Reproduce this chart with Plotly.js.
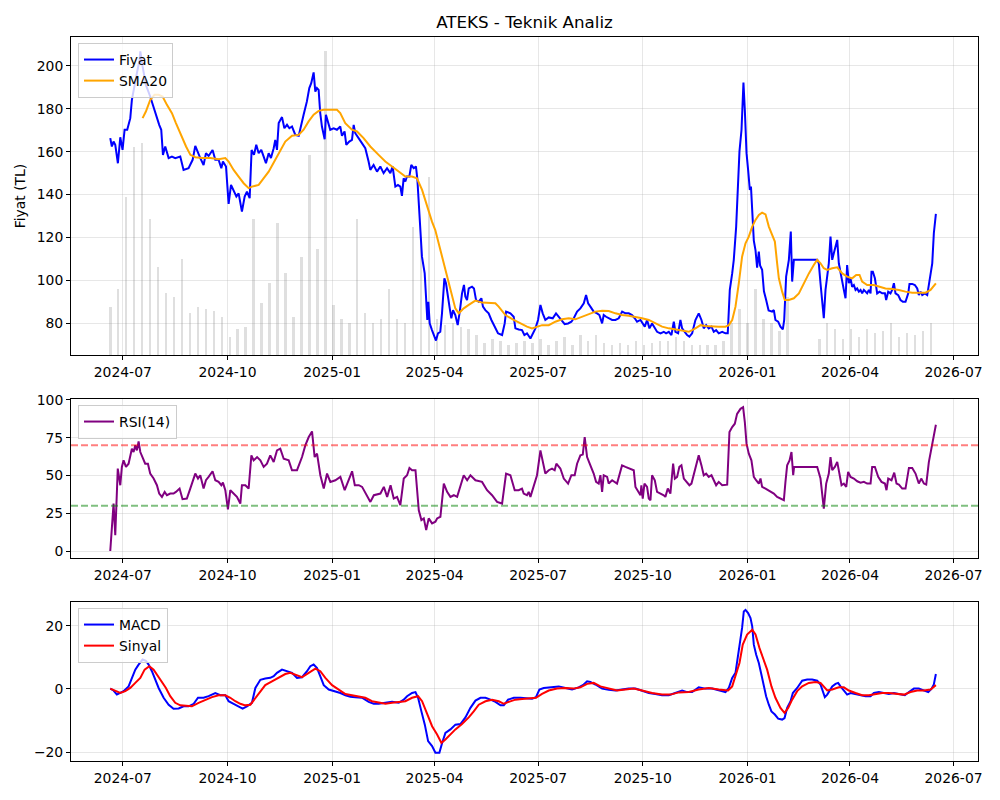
<!DOCTYPE html>
<html>
<head>
<meta charset="utf-8">
<script src="https://cdn.plot.ly/plotly-3.0.1.min.js"></script>
<style>html,body{margin:0;padding:0;background:#fff;}#chart{width:1000px;height:800px;}</style>
</head>
<body>
<div id="chart"></div>
<script>
// Day offsets are counted from the first trading day, 2024-06-20.
const START_DATE = '2024-06-20';

// Fiyat (close price, TL): [day, value]
const fiyat = [[0,166.3],[1.4,162.4],[2.9,164.7],[4.4,163.2],[6.7,154.6],[8.8,166.7],[10.8,160.8],[12.6,170.2],[14.9,170.2],[17.6,175.6],[19,184.1],[20.5,188.8],[23.4,196.6],[25.8,202.8],[26.4,206.7],[28.4,199.7],[31.3,191.1],[35.1,185.7],[38.1,180.3],[41,175.6],[43,172.5],[44.8,170.2],[46.3,158.5],[48.3,162.4],[51.3,157],[54.2,157.7],[57.1,157],[61.5,157.7],[64.4,151.5],[68.8,152.3],[72.4,156.2],[74.7,162.7],[77.1,159.3],[79.1,157],[82,153.8],[84.1,159.3],[86.4,158],[89.9,160.8],[92.3,156.2],[95.2,156.2],[97.6,152.3],[99,155.4],[101.7,153.1],[104,135.7],[106.1,144.5],[108.4,142.2],[110.8,139.1],[112.8,140.6],[114.3,136],[115.7,132.1],[118.1,139.1],[120.1,141.4],[122.5,138.3],[124.2,160.8],[126.3,158.5],[128.3,163.2],[130.4,159.3],[132.7,160.8],[134.8,157.7],[136.8,154.6],[139.2,159.3],[141.2,157],[143.6,161.6],[145,165.5],[146.5,160.8],[148,173.3],[150.9,176.1],[153,170.9],[155.3,172.5],[157.4,170.9],[159.7,171.7],[162.6,167.8],[165.6,167.4],[167,170.2],[169.9,177.2],[172.8,183.4],[174.9,189.6],[176.6,191.9],[178.7,196.9],[180.2,188],[181.6,189.6],[183.1,188.8],[184.5,178],[186,171.7],[188.4,165.8],[189.5,177.2],[191.3,174.1],[193.3,170.2],[196.3,170.9],[199.2,170.2],[202.1,171.7],[203.6,167.4],[205.9,169.4],[207.4,163.2],[210,164.7],[212.4,165.5],[213.9,172.5],[215.3,168.6],[218.2,166.3],[221.2,163.9],[224.1,161.6],[227,155.4],[228.5,151.5],[231.4,153.8],[234.4,150.7],[237.3,153.1],[240.2,150],[243.2,152.3],[246.1,150],[248.1,153.1],[250.5,143.7],[252.8,144.5],[254.9,143.7],[256.3,139.4],[257.8,147.6],[259.3,146.1],[260.7,148.4],[262.8,148.4],[264.5,153.8],[266.6,152.3],[268.6,153.1],[269.8,147.6],[271,137.5],[272.5,128.2],[273.9,111.1],[276.3,103.3],[277.7,92.5],[278.6,81.6],[279.5,90.1],[280.7,80],[282.7,76.9],[285.1,73.8],[286.2,72],[288,75.4],[290,76.1],[291.5,84.7],[293.6,101],[295,98.7],[296.5,92.5],[298.3,87],[299.7,82.4],[301.2,86.2],[303.2,83.9],[305.3,79.2],[307.3,86.2],[309.1,94],[310.8,97.9],[312,92.5],[313.5,90.9],[315,96.3],[317.9,97.1],[319.6,96.3],[321.4,90.9],[323.7,90.1],[326.1,91.7],[327.5,87.8],[329.6,86.2],[332.5,84.7],[334.9,81.6],[337.8,78.5],[340.7,75.4],[344.3,74.6],[346.6,80],[347.8,85.5],[351.6,84.7],[354.5,83.1],[356,77.7],[358.9,77.2],[361.8,76.9],[363.9,74.6],[366.2,75.4],[369.2,73],[371.2,75.4],[373.6,77.7],[375.9,81.6],[378,88.6],[380,84.7],[382.3,81.6],[385.3,82.8],[388.8,82.4],[391.7,84.7],[394.1,83.1],[396.4,81.6],[399.3,79.7],[402.3,80],[405.2,80.8],[407.3,82.4],[410.2,85.5],[413.1,87],[416.1,89.4],[418.1,93.2],[419.9,89.4],[421.9,87.8],[424.8,85.5],[427.8,84.7],[429.8,83.9],[432.2,80],[433.6,83.9],[435.7,83.1],[438,82.4],[441,81.6],[443.9,81.6],[446.8,82.4],[449.8,85.5],[452.7,84.7],[455.6,84.7],[458.5,83.9],[460.9,82.4],[462.9,80.8],[465.9,81.6],[467.9,80],[469.7,78.5],[471.7,81.6],[473.8,77.7],[476.1,80],[478.5,77.7],[480.5,76.1],[483.5,75.4],[486.4,76.1],[488.4,75.4],[490.8,76.1],[493.1,74.6],[495.2,80.8],[496.6,76.1],[499,75.4],[501,81.6],[502.5,77.7],[504.8,76.1],[506.9,74.6],[508.9,73.8],[511.3,75.4],[514.2,81.6],[517.1,84.7],[519.5,81.6],[521.5,77.7],[523.6,79.2],[525.9,77.7],[528.3,78.5],[530.3,76.1],[532.4,76.9],[534.7,75.4],[537.7,76.1],[540.6,75.4],[542.6,75.4],[544.4,95.6],[546.5,103.3],[547.9,109.6],[550,125.1],[551.7,142.2],[552.9,160.1],[554.7,170.2],[556.4,192.2],[557.6,179.5],[559.1,159.3],[560.5,151.5],[562,142.2],[563,143.7],[564.4,129.8],[565.5,118.5],[567,114],[568.4,106],[569.9,113.4],[571,107],[572.8,105],[574.4,95],[576.3,91],[578.5,86],[581.6,85.5],[583.1,86.2],[584.5,81.6],[586.9,80.8],[588.9,78.5],[591,77.2],[592.2,81.6],[593.9,101.8],[596.3,109.6],[598,122.8],[599.2,99.5],[600.7,109.6],[621.2,109.6],[622.6,108],[624.1,98.7],[625.6,90.9],[627,82.4],[628.5,95.6],[630,101.8],[631.4,108],[632.9,120.4],[634.4,109.6],[635.8,112.7],[637.3,116.6],[638.8,118.9],[640.2,108],[641.7,103.3],[643.2,99.5],[644.6,95.6],[646.1,91.7],[647.5,107.2],[649,98.7],[650.5,101],[651.9,97.1],[653.4,97.9],[654.9,95.6],[656.3,96.3],[657.8,94.8],[659.3,95.6],[660.7,94],[662.2,95.6],[663.7,94.8],[665.1,94],[666.6,95.6],[668.1,94],[668.9,104.1],[670.1,104.1],[671.9,101],[673.9,94],[676,94.8],[678.3,94],[680.7,94],[681.8,90.9],[683.6,94.8],[685.6,94],[687.1,95.6],[688.6,98.7],[690,94],[692.4,93.2],[694.4,90.9],[696.5,90.1],[698.8,90.1],[701.2,94],[702.3,98.4],[704.7,98.4],[707,97.9],[709.1,96.3],[710.5,93.2],[712,94.8],[713.5,93.2],[715.8,94],[717.9,93.2],[719.3,97.9],[720.8,104.9],[722.3,108],[723.7,122],[725.5,131]];

// SMA20: [day, value]
const sma20 = [[28.4,175.6],[31.3,178.7],[35.1,184.1],[38.9,186.5],[42.5,186.5],[46,185.7],[49.8,181.8],[54.2,177.9],[57.7,173.3],[63,166.3],[66.6,162.4],[70.4,158.5],[74.7,157.4],[80.6,157],[87.9,157],[95.2,156.5],[101.1,157],[104,155.4],[108.4,151.5],[112.8,148.4],[117.2,145.3],[121.6,143],[124.5,143.7],[130.4,144.5],[134.8,147.6],[139.2,150.7],[145,156.2],[149.4,160.8],[153.8,164.7],[159.7,167.4],[165.6,167.8],[169.9,170.2],[174.3,174.1],[178.7,177.2],[183.1,179],[187.5,179.5],[193.3,179.5],[199.2,179.5],[202.1,178],[206.5,173.3],[212.4,170.2],[216.8,169.4],[222.6,166.3],[228.5,162.4],[235.8,158.5],[241.7,155.4],[247.6,153.1],[253.4,150.7],[259.3,148.4],[265.1,148.4],[269.5,147.6],[274,142.2],[278.3,134.4],[282.7,127.4],[285.6,123.5],[288.6,117.3],[291.5,111.1],[294.4,104.9],[297.4,98.7],[300.3,92.5],[303.2,87],[306.2,84.7],[310.6,87],[315,88.6],[320.8,90.6],[326.7,89.7],[334,89.4],[338.4,89.4],[341.3,87.8],[347.2,83.9],[354.5,81.6],[360.4,80],[366.2,78.5],[370.6,77.7],[379.4,79.2],[385.3,79.2],[391.1,80.8],[397,81.9],[402.9,82.4],[408.7,81.9],[414.6,83.1],[420.4,84.4],[426.3,85.5],[432.2,85.9],[438,85.8],[443.9,84.7],[449.8,83.9],[455.6,83.6],[461.5,83.1],[467.3,82.4],[473.2,81.6],[479.1,80],[484.9,78.5],[490.8,77.7],[496.6,77.2],[502.5,76.9],[508.4,76.1],[514.2,77.7],[518.6,79.2],[523,78.8],[528.9,78.5],[534.7,78.5],[540.6,78.5],[543.5,79.2],[546.5,81.6],[549.4,87.8],[552.3,98.7],[555.2,111.1],[558.2,117.3],[561.1,120.4],[564.1,125.1],[567,128.2],[569.9,130.5],[572.8,131.6],[575.8,130.8],[578.7,125.1],[581.6,121.2],[584,118.1],[586,108],[587.5,101],[590.4,94.8],[592.7,90.9],[596.3,90.9],[600.7,91.7],[605.1,94],[609.5,98.7],[613.9,103.3],[618.2,107.2],[621.2,109.6],[624.1,108],[627,105.7],[630,104.9],[634.4,105.7],[638.8,106.1],[643.2,103.3],[647.5,101.8],[651.9,101],[655.5,102.6],[658.4,102.6],[660.7,99.5],[665.1,97.9],[671,97.9],[675.4,97.1],[681.2,96.3],[687.1,96],[693,95.6],[698.8,94.8],[704.7,94.3],[710.5,94.3],[716.4,94.3],[720.8,95.6],[725.5,98.7]];

// Volume (millions), sampled weekly starting at day 0
const hacim = [2.4,3.3,7.9,10.4,10.6,6.8,4.4,3.1,2.9,4.8,2.1,2.4,2.3,2.2,1.9,0.9,1.3,1.4,6.8,2.6,3.6,6.6,4.1,1.9,4.9,10,5.3,15.2,2.5,1.8,1.6,6.8,2.1,1.6,1.8,3.3,1.8,1.6,6.4,5.9,8.9,1.8,1.5,1.6,1.4,1.3,1.0,0.6,0.8,0.7,0.5,0.6,0.7,0.6,0.8,0.5,0.7,0.9,0.5,1.0,0.7,1.0,0.6,0.5,0.6,0.5,0.7,0.5,0.6,0.7,0.7,0.9,0.7,0.5,0.5,0.5,0.5,0.7,1.6,2.3,1.6,3.3,1.8,1.6,1.2,2.9,0,0,0,0.8,1.6,1.3,0.8,1.3,0.9,1.3,1.1,1.2,1.6,0.9,1.1,1.0,1.2,1.6];

// RSI(14): [day, value]
const rsi = [[0,0.2],[2.9,31.5],[4.4,10.7],[6.6,54.6],[8.8,43.6],[10.2,55.7],[11.7,60],[13.8,55.7],[16.1,57.8],[17.6,64.4],[19,67.7],[20.5,65.5],[22,69.9],[23.4,66.6],[24.9,72.5],[26.4,65.5],[28.4,62.2],[30.7,57.8],[33.1,57.8],[35.1,51.3],[38.1,48],[41,43.6],[43,38.1],[45.4,35.9],[47.8,39.2],[49.8,37],[52.7,38.1],[55.6,38.1],[57.7,39.2],[60.9,41.4],[63.5,34.4],[67.3,34.8],[70.3,41.4],[72.4,45.8],[74.7,51.3],[77.1,48],[79.1,50.2],[82,41.4],[84.1,46.9],[86.4,49.1],[89.9,52.8],[92.3,46.9],[95.2,45.8],[97.6,43.6],[99,45.3],[101.1,40.3],[103.4,27.6],[105.5,40.3],[108.4,38.1],[111.3,35.9],[114.3,31.5],[115.7,43.6],[118.7,43.6],[121.6,41.4],[124,63.3],[126,60],[129,62.2],[131.9,60],[134.8,55.7],[137.7,57.8],[140.6,63.3],[143.6,58.9],[146.5,66.6],[149.4,67.7],[152.4,61.1],[156.8,60],[159.7,53.5],[164.1,53.5],[168.5,62.2],[171.4,69.9],[174.4,75.4],[177.3,79.1],[179.6,62.2],[181.7,64.4],[184.6,50.2],[187.6,41.4],[190.5,51.3],[193.4,45.8],[197.8,46.9],[202.2,49.1],[206,40.3],[209.6,48],[212.5,52.8],[214.9,43.6],[218.4,43.6],[221.3,42.5],[225.7,37],[228.6,32.6],[231.6,37],[234.5,37.4],[237.4,38.1],[240.4,42.5],[243.3,35.9],[246.3,43.6],[249.1,34.8],[252,35.9],[254.9,30.4],[257.9,48],[260.8,50.2],[262.9,55],[265.2,53.5],[268.2,53.5],[271.1,27.1],[273.4,20.6],[275.5,21.7],[277.6,14],[279.8,21.7],[282.8,18.4],[285.7,19.5],[287.2,21.7],[290.1,22.8],[293.1,44.7],[296,39.2],[298.9,35.9],[301.9,37],[304.8,35.9],[307.7,43.6],[310.6,50.2],[313.6,46.9],[316.5,50.2],[320.9,46.9],[326.7,45.8],[331.1,40.3],[335.5,37],[339.9,32.6],[344.3,31.5],[347.8,51.3],[351.6,50.2],[355.4,40.3],[358.9,40.3],[361.8,41.4],[363.3,38.1],[366.2,37],[367.7,39.2],[369.2,35.9],[372.1,43.6],[375,50.2],[378,66.6],[380,60],[382.3,51.3],[385.3,53.5],[388.2,54.6],[390.5,53.5],[392,57.8],[395.5,54.6],[398.5,48],[402.3,44.7],[405.2,50.2],[408.1,50.2],[410.2,57.8],[413.1,63.3],[415.2,63.8],[416.9,75.4],[419,62.2],[421.9,56.7],[424.8,51.3],[426.9,45.8],[429.2,44.7],[430.7,50.2],[432.2,39.2],[433.6,50.2],[436.6,49.1],[438,44.7],[441,46.9],[445.3,44.7],[449.7,56.7],[452.7,55.7],[457.1,54.6],[460,53.5],[461.5,42.5],[463.8,39.2],[465.9,37],[466.7,43.6],[467.9,34.8],[469.4,44.7],[471.7,42.5],[473.2,34.8],[474.7,33.7],[476.1,50.2],[478.5,46.9],[480.5,39.2],[483.5,38.1],[486.4,37],[487.8,35.9],[489.9,41.4],[492.2,38.1],[494.6,57.8],[496.1,48],[498.1,49.1],[500.1,55.7],[501.9,56.7],[504,48],[506.9,45.8],[508.9,43.6],[510.7,44.7],[512.7,50.2],[514.8,56.7],[517.1,63.3],[519.5,56.7],[521.5,50.2],[523.6,51.3],[525.9,49.1],[528.3,50.2],[530.3,46.9],[532.4,43.6],[534.7,45.8],[537.7,43.6],[542.1,44],[544.1,78.7],[546.5,82],[548.8,84.2],[550.8,90.7],[553.8,94],[556.1,95.1],[557.6,85.3],[559.1,71],[561.1,64.4],[563.4,60],[565.5,49.1],[567.5,46.9],[569.9,44.7],[571.4,48],[572.8,42.5],[575.8,41.4],[580.1,39.2],[583.1,38.1],[586,35.9],[589,34.8],[591.9,33.7],[593.3,45.8],[594.8,56.7],[596.9,60],[598.6,65.5],[600.1,50.2],[600.9,55.7],[621.2,55.7],[624.1,48],[627,28.2],[629.1,44.7],[631.4,51.3],[632.9,62.2],[634.4,53.5],[636.7,55.7],[638.8,59],[640.9,50.2],[642.6,43.6],[644.6,44.7],[646.7,42.5],[648.4,52.4],[650.5,49.1],[653.4,48],[656.4,46.2],[659.3,45.3],[662.2,45.8],[665.1,44.7],[668.1,44.7],[669.5,55.7],[671.9,55.7],[674.8,49.1],[677.7,45.8],[680.7,44.7],[682.1,40.3],[683.6,48],[686.5,46.9],[688.9,51.9],[690.9,44.7],[693,44],[695.9,41.4],[698.8,41.4],[701.8,55],[704.7,55],[707.6,51.3],[710.5,44.7],[712.6,48],[715,44.7],[717,44],[719.3,58.9],[722.3,69.9],[725.5,83.5]];

// MACD: [day, value]
const macd = [[0,0.1],[2.9,-0.5],[5.8,-1.8],[8.8,-1.3],[11.7,-0.7],[16.1,0.8],[19,3.5],[22,6.1],[24.9,7.7],[28.4,9.3],[31.3,8.9],[33.7,7.7],[36.6,5.6],[39.5,2.9],[42.5,0.3],[46.9,-2.8],[51.3,-5],[55.6,-6.3],[60.1,-6.2],[64.4,-5.5],[68.8,-5.5],[73.3,-4.7],[77.1,-2.8],[82,-2.8],[86.4,-2.3],[92.3,-1.3],[96.7,-2],[101.1,-2],[104,-3.9],[108.4,-4.7],[112.8,-5.5],[116.3,-6.2],[120.1,-5.5],[124.5,-4.4],[127.5,0.3],[131.9,2.9],[136.2,3.3],[140.6,3.5],[143.6,4],[146.5,5.1],[150.9,6.1],[155.3,5.6],[159.7,5.1],[164.1,3.5],[168.5,3.7],[172.9,5.6],[175.8,7.2],[178.7,7.7],[181.7,6.6],[184.6,4],[187.6,1.2],[192,-0.2],[197.8,-0.7],[202.2,-1.3],[206.6,-2],[211,-2.5],[215.3,-2.6],[221.2,-2.8],[227.1,-4.1],[231.5,-4.7],[235.9,-4.7],[241.8,-4.4],[247.6,-4.1],[253.5,-4.4],[257.9,-3.4],[260.8,-2.3],[265.2,-1.3],[268.2,-1],[270.5,-2.8],[273.4,-7.1],[276.4,-11.3],[279.3,-16.5],[282.8,-18.1],[285.7,-20.2],[289.2,-20.2],[291.6,-17.1],[294.5,-13.9],[298.9,-12.8],[303.3,-11.3],[307.7,-11.1],[312.1,-9],[316.5,-6],[320.9,-3.7],[325.3,-2.8],[329.7,-2.8],[334.1,-3.4],[338.5,-4.1],[342.9,-5.2],[345.8,-5.2],[349.6,-3.4],[354.6,-2.8],[360.4,-2.8],[366.3,-3.1],[370.6,-3.1],[374.1,-2.6],[377.1,-0.2],[380.9,0.3],[386.7,0.5],[394.1,0.8],[400,0.3],[405.8,-0.2],[411.6,0.5],[416,1.4],[419,2.4],[421.9,2.2],[426.3,1.4],[432.2,0.1],[438,-0.3],[443.9,-0.5],[449.7,-0.2],[455.6,0.1],[461.5,0.1],[467.3,-0.5],[473.2,-1.3],[479,-1.6],[484.9,-2],[490.8,-2],[496.6,-1.3],[502.5,-0.5],[506.9,-1],[511.3,-1],[517.1,0.5],[523,0.1],[528.9,0.1],[534.7,-0.5],[540.6,-1],[543.5,0.3],[546.5,3.5],[549.4,5.1],[551.7,10.3],[553.8,16.1],[555.2,19.3],[556.7,24.5],[558.2,25],[560.5,24],[562.6,22.4],[564.1,19.8],[565.5,14],[567.6,10.8],[569.9,8.2],[572.2,4.5],[574.3,0.8],[576.3,-2.3],[578.7,-5],[581,-7.1],[584,-8.1],[586.9,-9.4],[590.4,-9.7],[592.5,-9.2],[594.8,-6],[597.8,-3.9],[599.8,-1.3],[603.6,0.3],[608,2.6],[612.4,3],[616.8,3],[621.2,2.6],[624.1,1.4],[626.2,-1.3],[627.9,-2.6],[630,-1.8],[632,-0.7],[634.4,0.8],[637.3,1.6],[639.6,1.9],[641.7,0.8],[644.6,-0.7],[647.5,-1.8],[650.5,-1.3],[654.9,-1.6],[659.3,-2],[663.7,-2.3],[668.1,-2.3],[671,-1.3],[675.4,-1],[679.8,-1.3],[684.2,-1.6],[688.6,-1.3],[693,-1.6],[698.2,-2],[701.8,-1],[706.2,0.1],[710.5,0.1],[715,-0.5],[718.8,-1],[721.7,0.1],[723.7,1.4],[725.5,4.7]];

// Sinyal (signal line): [day, value]
const sinyal = [[0,0.1],[4.4,-0.7],[8.8,-1.3],[13.2,-0.7],[17.6,0.3],[22,1.9],[26.4,3.5],[30.2,6.1],[34.3,7.2],[38.1,6.1],[41.9,4],[45.4,2.4],[48.9,0.3],[52.7,-2.3],[57.1,-4.4],[61.5,-5.2],[67.3,-5.5],[71.7,-5.5],[77.6,-4.4],[83.5,-3.4],[89.4,-2.6],[95.2,-2],[101.1,-2],[105.5,-2.8],[109.9,-3.9],[114.3,-4.7],[118.7,-5.2],[123.1,-5],[127.5,-2.8],[131.9,-0.7],[136.2,1.2],[142.1,2.4],[148,3.5],[153.8,4.7],[158.2,5.1],[164.1,4.3],[168.5,3.7],[174.4,5.1],[180.2,6.4],[184.6,5.6],[189,3.5],[194.9,1.2],[200.7,-0.2],[206.6,-1.6],[212.4,-2],[218.2,-2.3],[224.1,-2.8],[230,-3.9],[235.9,-4.4],[241.8,-4.7],[247.6,-4.4],[253.5,-4.1],[259.3,-3.9],[265.2,-2.8],[270.5,-2.3],[274,-3.9],[278.4,-8.1],[282.8,-11.8],[287.2,-14.4],[291,-17.1],[294.5,-16],[298.9,-14.4],[303.3,-12.8],[309.1,-11.1],[315,-9],[319.4,-7.1],[323.8,-5],[329.7,-3.9],[335.5,-3.4],[341.4,-3.9],[345.8,-4.7],[350.2,-4.1],[356,-3.4],[361.9,-3.2],[367.7,-3.1],[374.1,-2.8],[379.4,-1.6],[385.3,-0.5],[392.6,0.1],[400,0.3],[407.3,0.1],[413.1,0.5],[419,1.6],[424.8,1.9],[430.7,0.8],[438,0.1],[445.3,-0.5],[452.7,-0.2],[460,0.1],[467.3,-0.5],[476.1,-1.3],[484.9,-1.8],[492.2,-1.8],[499.6,-1.1],[508.4,-1],[517.1,-0.2],[525.9,0.3],[534.7,-0.2],[542.9,-0.5],[546.5,0.8],[550,4.5],[552.9,8.2],[555.8,14],[559.6,17.2],[564.1,18.7],[567,17.2],[570.5,12.9],[574.3,8.7],[577.2,6.1],[581,0.8],[584.5,-2.8],[588.9,-6],[592.5,-7.6],[595.7,-6],[599.2,-3.4],[603.6,-0.7],[608,0.8],[613.8,1.9],[619.7,2.2],[624.1,1.9],[627,0.8],[630,-0.5],[634.4,-0.2],[640.2,0.5],[644.6,0.5],[649,-0.5],[654.9,-1.3],[660.7,-2],[666.6,-2],[672.4,-1.6],[678.3,-1.3],[684.2,-1.3],[690,-1.6],[697.4,-1.8],[703.2,-1],[709.1,-0.5],[715,-0.5],[720.8,-0.2],[725.5,1.2]];

const RSI_UPPER = 70, RSI_LOWER = 30;
const xTickVals = ['2024-07-01','2024-10-01','2025-01-01','2025-04-01','2025-07-01','2025-10-01','2026-01-01','2026-04-01','2026-07-01'];
const xTickText = ['2024-07','2024-10','2025-01','2025-04','2025-07','2025-10','2026-01','2026-04','2026-07'];

// ---- helpers ----
const startMs = Date.parse(START_DATE + 'T00:00:00Z');
const DAY = 86400000;
const toDate = d => new Date(startMs + d * DAY).toISOString().replace('T', ' ').slice(0, 19);
const xs = arr => arr.map(p => toDate(p[0]));
const ys = arr => arr.map(p => p[1]);
const volDates = hacim.map((v, i) => toDate(i * 7));

const FONT = 'DejaVu Sans, Arial, sans-serif';
const GRID = 'rgba(176,176,176,0.3)';
const XRANGE = ['2024-05-16 12:00:00', '2026-07-22 12:00:00'];

const traces = [
  {type:'bar', x: volDates, y: hacim, xaxis:'x', yaxis:'y', width: 2.2*DAY,
   marker:{color:'rgba(128,128,128,0.25)', line:{width:0}}, showlegend:false, hoverinfo:'skip'},
  {type:'scatter', mode:'lines', name:'Fiyat', x: xs(fiyat), y: ys(fiyat), xaxis:'x', yaxis:'y4',
   line:{color:'#0000ff', width:2}, legend:'legend'},
  {type:'scatter', mode:'lines', name:'SMA20', x: xs(sma20), y: ys(sma20), xaxis:'x', yaxis:'y4',
   line:{color:'#ffa500', width:2}, legend:'legend'},
  {type:'scatter', mode:'lines', name:'RSI(14)', x: xs(rsi), y: ys(rsi), xaxis:'x2', yaxis:'y2',
   line:{color:'#800080', width:2}, legend:'legend2'},
  {type:'scatter', mode:'lines', name:'MACD', x: xs(macd), y: ys(macd), xaxis:'x3', yaxis:'y3',
   line:{color:'#0000ff', width:2}, legend:'legend3'},
  {type:'scatter', mode:'lines', name:'Sinyal', x: xs(sinyal), y: ys(sinyal), xaxis:'x3', yaxis:'y3',
   line:{color:'#ff0000', width:2}, legend:'legend3'}
];

function xAxis(anchor) {
  return {
    type:'date', anchor: anchor, range: XRANGE, domain:[0,1],
    tickvals: xTickVals, ticktext: xTickText,
    showline:true, linecolor:'#000', linewidth:1, mirror:true,
    ticks:'outside', ticklen:4, tickwidth:1, tickcolor:'#000',
    showgrid:true, gridcolor:GRID, gridwidth:1, zeroline:false,
    tickfont:{family:FONT, size:13.9, color:'#000'}
  };
}
function yAxis(extra) {
  return Object.assign({
    showline:true, linecolor:'#000', linewidth:1, mirror:true,
    ticks:'outside', ticklen:4, tickwidth:1, tickcolor:'#000',
    showgrid:true, gridcolor:GRID, gridwidth:1, zeroline:false,
    tickfont:{family:FONT, size:13.9, color:'#000'}
  }, extra);
}
function legendBox(y) {
  return {x:0.0077, y:y, xanchor:'left', yanchor:'top', xref:'paper', yref:'paper',
    bgcolor:'rgba(255,255,255,0.8)', bordercolor:'#cccccc', borderwidth:1,
    font:{family:FONT, size:13.9, color:'#000'}, tracegroupgap:0};
}

const layout = {
  width:1000, height:800,
  margin:{l:71, r:22, t:37, b:39},
  paper_bgcolor:'#fff', plot_bgcolor:'#fff',
  font:{family:FONT, size:13.9, color:'#000'},
  title:{text:'ATEKS - Teknik Analiz', x:0.5, xref:'paper', xanchor:'center',
         y:1-22/800, yref:'container', yanchor:'middle',
         font:{family:FONT, size:16.7, color:'#000'}},
  showlegend:true,
  xaxis: xAxis('y'),
  xaxis2: xAxis('y2'),
  xaxis3: xAxis('y3'),
  yaxis: {domain:[0.5608,1], range:[0, 15.9], visible:false, fixedrange:true},
  yaxis4: yAxis({overlaying:'y', side:'left', anchor:'x', range:[65.3,213.4], tickvals:[80,100,120,140,160,180,200],
    title:{text:'Fiyat (TL)', font:{family:FONT, size:13.9, color:'#000'}, standoff:7}}),
  yaxis2: yAxis({domain:[0.2800,0.4996], anchor:'x2', range:[-4.6,100.3], tickvals:[0,25,50,75,100]}),
  yaxis3: yAxis({domain:[0,0.2192], anchor:'x3', range:[-22.8,27.4], tickvals:[-20,0,20]}),
  legend: legendBox(0.9917),
  legend2: legendBox(0.4917),
  legend3: legendBox(0.2113),
  shapes:[
    {type:'line', xref:'x2 domain', x0:0, x1:1, yref:'y2', y0:RSI_UPPER, y1:RSI_UPPER,
     line:{color:'rgba(255,0,0,0.5)', width:2, dash:'7px,3px'}},
    {type:'line', xref:'x2 domain', x0:0, x1:1, yref:'y2', y0:RSI_LOWER, y1:RSI_LOWER,
     line:{color:'rgba(0,128,0,0.5)', width:2, dash:'7px,3px'}}
  ],
  bargap:0
};

Plotly.newPlot('chart', traces, layout, {displayModeBar:false, responsive:false});
</script>
</body>
</html>
